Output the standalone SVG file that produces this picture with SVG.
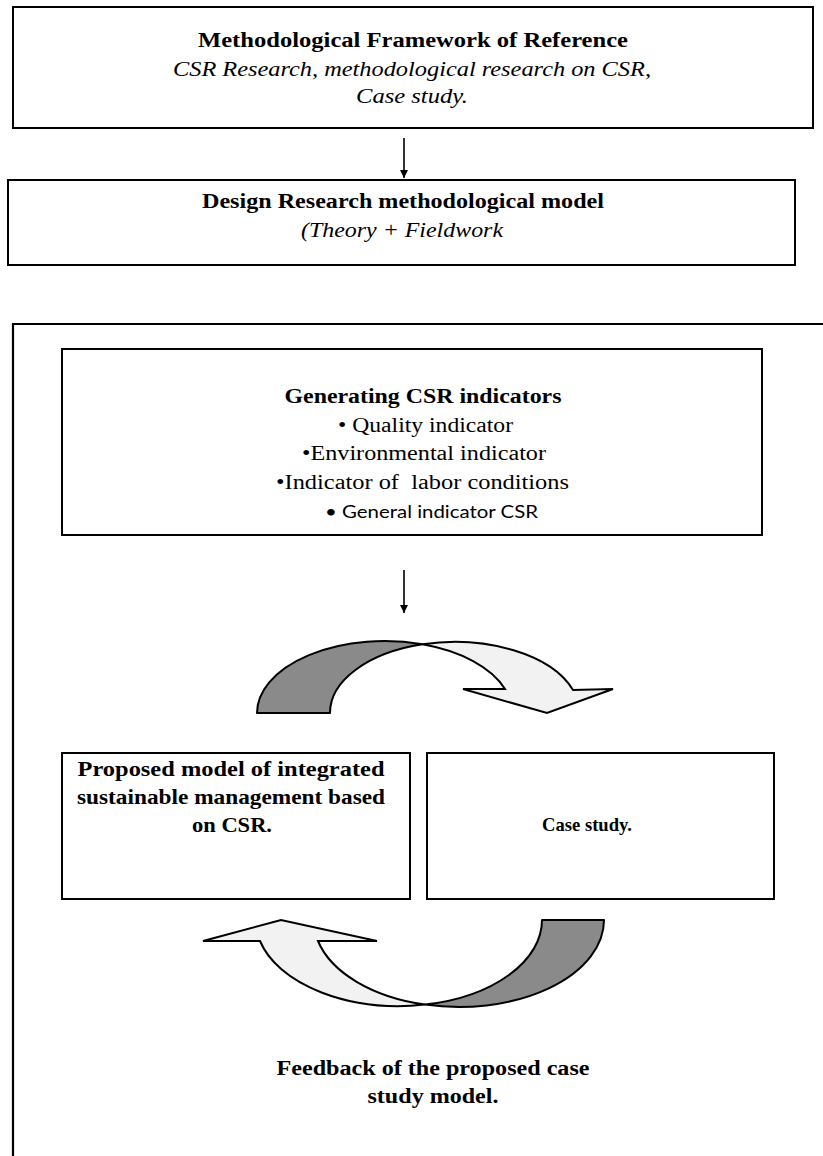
<svg xmlns="http://www.w3.org/2000/svg" width="823" height="1156" viewBox="0 0 823 1156">
<style>
.box{fill:#fff;stroke:#000;stroke-width:2}
.t{font-family:"Liberation Serif","Times New Roman",serif;fill:#000}
.b{font-weight:bold}
.i{font-style:italic}
.s{font-family:Lato,"Liberation Sans",sans-serif;fill:#000}
.ln{stroke:#000;stroke-width:1.6;fill:none}
.dark{fill:#8a8a8a;stroke:#000;stroke-width:2;stroke-linejoin:round}
.light{fill:#f2f2f2;stroke:#000;stroke-width:2;stroke-linejoin:miter}
</style>
<defs>
<marker id="ah" viewBox="0 0 10 10" refX="10" refY="5" markerWidth="8" markerHeight="10" markerUnits="userSpaceOnUse" orient="auto">
<path d="M0,0 L10,5 L0,10 Z" fill="#000"/>
</marker>
</defs>
<rect width="823" height="1156" fill="#fff"/>

<g id="outer-frame">
<path d="M830,324 L13,324 L13,1165" fill="none" stroke="#000" stroke-width="2.2"/>
</g>

<g id="node-framework">
<rect class="box" x="13" y="7" width="800" height="121"/>
<text class="t b" x="413" y="47" font-size="20" text-anchor="middle" textLength="430" lengthAdjust="spacingAndGlyphs">Methodological Framework of Reference</text>
<text class="t i" x="412" y="76" font-size="20" text-anchor="middle" textLength="478" lengthAdjust="spacingAndGlyphs">CSR Research, methodological research on CSR,</text>
<text class="t i" x="412" y="103" font-size="20" text-anchor="middle" textLength="112" lengthAdjust="spacingAndGlyphs">Case study.</text>
</g>

<g id="node-design">
<rect class="box" x="8" y="180" width="787" height="85"/>
<text class="t b" x="403" y="208" font-size="20" text-anchor="middle" textLength="402" lengthAdjust="spacingAndGlyphs">Design Research methodological model</text>
<text class="t i" x="402" y="237" font-size="20" text-anchor="middle" textLength="202" lengthAdjust="spacingAndGlyphs">(Theory + Fieldwork</text>
</g>

<g id="node-indicators">
<rect class="box" x="62" y="349" width="700" height="186"/>
<text class="t b" x="423" y="403" font-size="20" text-anchor="middle" textLength="277" lengthAdjust="spacingAndGlyphs">Generating CSR indicators</text>
<text class="t" x="338" y="432" font-size="20" textLength="175" lengthAdjust="spacingAndGlyphs">• Quality indicator</text>
<text class="t" x="302" y="460" font-size="20" textLength="244" lengthAdjust="spacingAndGlyphs">•Environmental indicator</text>
<text class="t" x="276" y="489" font-size="20" textLength="293" lengthAdjust="spacingAndGlyphs" style="white-space:pre">•Indicator of  labor conditions</text>
<text class="s" x="325" y="518" font-size="18" textLength="213" lengthAdjust="spacingAndGlyphs">• General indicator CSR</text>
</g>

<g id="node-proposed">
<rect class="box" x="62" y="753" width="348" height="146"/>
<text class="t b" x="231" y="776" font-size="22" text-anchor="middle" textLength="307" lengthAdjust="spacingAndGlyphs">Proposed model of integrated</text>
<text class="t b" x="231" y="804" font-size="22" text-anchor="middle" textLength="308" lengthAdjust="spacingAndGlyphs">sustainable management based</text>
<text class="t b" x="232" y="832" font-size="22" text-anchor="middle" textLength="80" lengthAdjust="spacingAndGlyphs">on CSR.</text>
</g>

<g id="node-case">
<rect class="box" x="427" y="753" width="347" height="146"/>
<text class="t b" x="587" y="831" font-size="19" text-anchor="middle" textLength="90" lengthAdjust="spacingAndGlyphs">Case study.</text>
</g>

<g id="node-feedback">
<text class="t b" x="433" y="1075" font-size="20" text-anchor="middle" textLength="313" lengthAdjust="spacingAndGlyphs">Feedback of the proposed case</text>
<text class="t b" x="433" y="1103" font-size="20" text-anchor="middle" textLength="131" lengthAdjust="spacingAndGlyphs">study model.</text>
</g>

<g id="connectors">
<line class="ln" x1="404" y1="138" x2="404" y2="178" marker-end="url(#ah)"/>
<line class="ln" x1="404" y1="570" x2="404" y2="613" marker-end="url(#ah)"/>
<path class="dark" d="M257,713 A127.6,72 0 0 1 422.5,644.3 A125,71 0 0 0 330,713 Z"/>
<path class="light" d="M422.5,644.3 A125,71 0 0 1 573,690 L613,689 L547,713 L463,689 L505,689 A127.6,72 0 0 0 422.5,644.3 Z"/>
<path class="dark" d="M604,920 A145.2,87 0 0 1 425,1004.6 A143.1,86 0 0 0 542,920 Z"/>
<path class="light" d="M425,1004.6 A143.1,86 0 0 1 260,941 L203,941 L281,920 L377,941 L318,941 A145.2,87 0 0 0 425,1004.6 Z"/>
</g>
</svg>
